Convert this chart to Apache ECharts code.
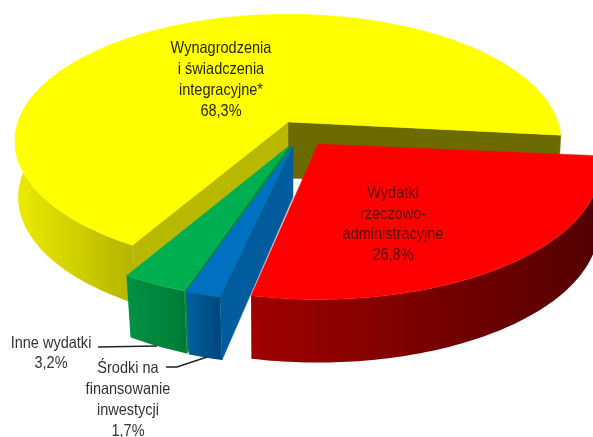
<!DOCTYPE html>
<html><head><meta charset="utf-8">
<style>html,body{margin:0;padding:0;background:#fff}#c{width:593px;height:437px}</style>
<script src="https://cdn.jsdelivr.net/npm/echarts@6/dist/echarts.min.js"></script>
</head><body><div id="c"></div>
<script>
var categories = ['Wynagrodzenia i świadczenia integracyjne*', 'Inne wydatki', 'Środki na finansowanie inwestycji', 'Wydatki rzeczowo-administracyjne'];
var values = [68.3, 3.2, 1.7, 26.8];
var labelLines = [['Wynagrodzenia','i świadczenia','integracyjne*'], ['Inne wydatki'], ['Środki na','finansowanie','inwestycji'], ['Wydatki','rzeczowo-','administracyjne']];

var startAngle = 6;
var topColors = ['#ffff00', '#00b050', '#0070c0', '#ff0000'];
var sideColors = [['#ecec00','#b4b400'], ['#009244','#007a36'], ['#00609f','#00467c'], ['#a00000','#520000']];
var wallColors = ['#b8b800', '#008a3e', '#005c9c', '#800000'];
var backWallColor = '#6b6b00';
var geometry = [
  {ox:288, oy:122, R:270, B:124, k:0.15, rot:0,    depth:56, sy:1.016, bs:0.988},
  {ox:290, oy:145, R:278, B:129, k:0.17, rot:0,    depth:51, sy:1.08,  bs:0.975},
  {ox:293, oy:146, R:281, B:129, k:0.17, rot:0,    depth:51, sy:1.08,  bs:0.975},
  {ox:318, oy:144, R:278, B:129, k:0.17, rot:-0.9, depth:60, sy:1.02,  bs:0.995}
];
var labelBoxes = [
  {x:221, y:80},
  {x:51,  y:353.5},
  {x:128, y:400},
  {x:393, y:224.5}
];
var labelFills = ['#26260a', '#333', '#333', '#5a0c0c'];
var fontSize = 16.5, fontStretch = 0.88, lineGap = 20.7;
var leaderLines = [
  [[98,347],[157,346]],
  [[166,367],[177,367],[207,357]]
];

function total(){ return values.reduce(function(s,v){return s+v;},0); }
function sliceRange(idx){
  var acc = 0;
  for (var i=0;i<idx;i++) acc += values[i];
  var hi = startAngle - acc/total()*360;
  var lo = hi - values[idx]/total()*360;
  return [lo,hi];
}
function rim(g,deg){
  var t = (deg+g.rot)*Math.PI/180, u=Math.cos(t), v=Math.sin(t);
  var s = 1/(1-g.k*v);
  return [g.ox + g.R*u*s, g.oy + g.B*v*s];
}
function bottom(g,p){
  return [g.ox + (p[0]-g.ox)*g.bs, g.oy + g.depth + (p[1]-g.oy)*g.sy];
}
function grad(c){
  return {type:'linear',x:0,y:0,x2:1,y2:0,colorStops:[{offset:0,color:c[0]},{offset:1,color:c[1]}]};
}
function wallPoly(g,deg,color){
  var p = rim(g,deg), a=[g.ox,g.oy];
  return {type:'polygon',shape:{points:[a,p,bottom(g,p),bottom(g,a)]},style:{fill:color,stroke:color,lineWidth:0.5}};
}
function renderSlice(params){
  var i = params.dataIndex, g = geometry[i], r = sliceRange(i), lo=r[0], hi=r[1];
  var children = [];
  var top = [[g.ox,g.oy]], step=1, d;
  for (d=lo; d<hi; d+=step) top.push(rim(g,d));
  top.push(rim(g,hi));
  if (i===0) children.push(wallPoly(g,hi,backWallColor));
  var sideHi = Math.min(hi, lo+ (i===0 ? 75 : 360));
  var upper=[], lower=[];
  for (d=lo; d<sideHi; d+=step){ var p=rim(g,d); upper.push(p); lower.unshift(bottom(g,p)); }
  var pe=rim(g,sideHi); upper.push(pe); lower.unshift(bottom(g,pe));
  children.push({type:'polygon',shape:{points:upper.concat(lower)},style:{fill:grad(sideColors[i]),stroke:null}});
  if (i<3) children.push(wallPoly(g,lo,wallColors[i]));
  children.push({type:'polygon',shape:{points:top},style:{fill:topColors[i],stroke:topColors[i],lineWidth:0.4}});
  return {type:'group',children:children};
}
function fmt(v){ return v.toFixed(1).replace('.',',')+'%'; }

var chart = echarts.init(document.getElementById('c'),null,{renderer:'canvas'});
var textEls = categories.map(function(name,i){
  var b = labelBoxes[i];
  return {type:'text',x:b.x,y:b.y,scaleX:fontStretch,silent:true,z:10,style:{
    text:labelLines[i].concat([fmt(values[i])]).join('\n'),
    fill:labelFills[i],fontFamily:'"Liberation Sans"',fontSize:fontSize,
    align:'center',verticalAlign:'middle',lineHeight:lineGap}};
});
var lineEls = leaderLines.map(function(pts){
  return {type:'polyline',silent:true,z:10,shape:{points:pts},style:{stroke:'#222',lineWidth:1.6,fill:null}};
});
chart.setOption({
  animation:false,
  backgroundColor:'#fff',
  series:[{type:'custom',coordinateSystem:'none',clip:false,
    data:categories.map(function(n,i){return {name:n,value:values[i]};}),
    renderItem:renderSlice}],
  graphic:{elements:textEls.concat(lineEls)}
});
</script></body></html>
